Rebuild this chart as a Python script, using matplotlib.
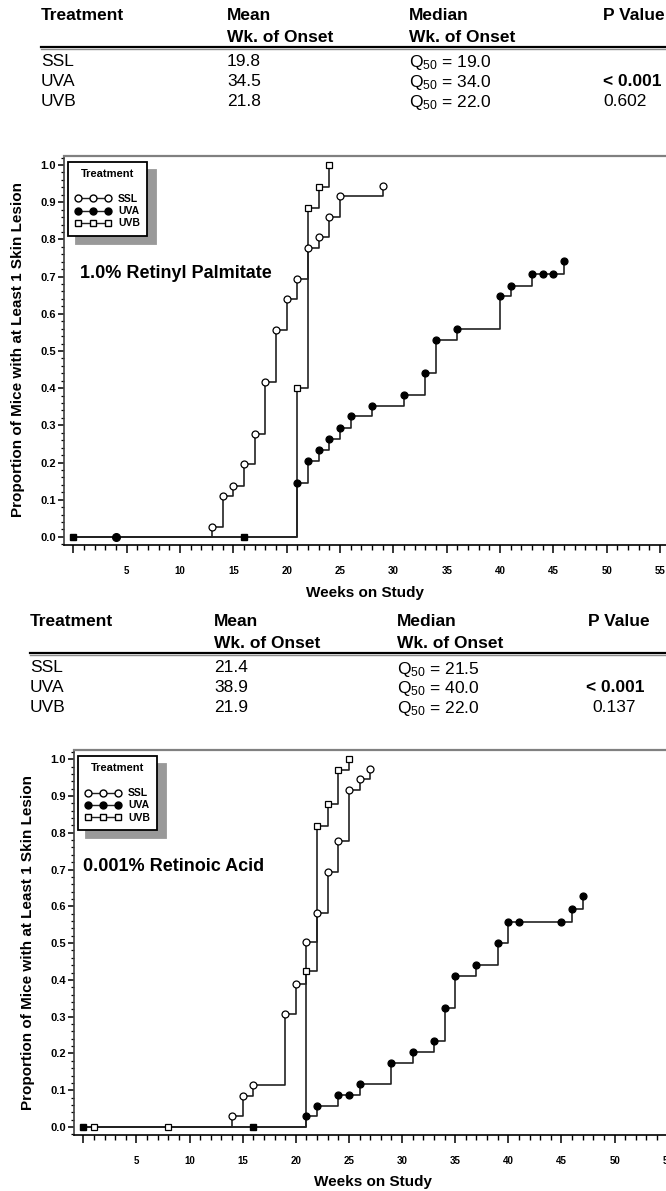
import matplotlib.pyplot as plt
from matplotlib.lines import Line2D
from matplotlib.ticker import MultipleLocator, FixedLocator, FuncFormatter

plt.rcParams['font.family'] = ['Liberation Sans', 'DejaVu Sans']
plt.rcParams['mathtext.fontset'] = 'custom'
plt.rcParams['mathtext.rm'] = 'Liberation Sans'
plt.rcParams['mathtext.it'] = 'Liberation Sans:italic'
plt.rcParams['mathtext.bf'] = 'Liberation Sans:bold'

W, H = 666, 1191

# ---- summary tables
groups = ['SSL', 'UVA', 'UVB']
rp_mean = ['19.8', '34.5', '21.8']
rp_median = ['19.0', '34.0', '22.0']
rp_pval = ['', '< 0.001', '0.602']
ra_mean = ['21.4', '38.9', '21.9']
ra_median = ['21.5', '40.0', '22.0']
ra_pval = ['', '< 0.001', '0.137']

# ---- 1.0% Retinyl Palmitate (week of onset, cumulative proportion)
rp_ssl_wk = [13, 14, 15, 16, 17, 18, 19, 20, 21, 22, 23, 24, 25, 29]
rp_ssl_p = [0.027, 0.109, 0.138, 0.196, 0.278, 0.416, 0.556, 0.639, 0.694,
            0.778, 0.806, 0.861, 0.917, 0.944]
rp_uva_wk = [21, 22, 23, 24, 25, 26, 28, 31, 33, 34, 36, 40, 41, 43, 44, 45, 46]
rp_uva_p = [0.146, 0.204, 0.234, 0.264, 0.294, 0.324, 0.352, 0.381, 0.440,
            0.529, 0.558, 0.648, 0.676, 0.706, 0.706, 0.706, 0.743]
rp_uvb_wk = [21, 22, 23, 24]
rp_uvb_p = [0.401, 0.885, 0.942, 1.0]
rp_base_sq = [0, 16]      # filled squares on the baseline
rp_base_ci = [4]          # filled circle on the baseline
rp_base_open = []

# ---- 0.001% Retinoic Acid
ra_ssl_wk = [14, 15, 16, 19, 20, 21, 22, 23, 24, 25, 26, 27]
ra_ssl_p = [0.029, 0.084, 0.113, 0.307, 0.390, 0.502, 0.583, 0.694, 0.778,
            0.917, 0.945, 0.973]
ra_uva_wk = [21, 22, 24, 25, 26, 29, 31, 33, 34, 35, 37, 39, 40, 41, 45, 46, 47]
ra_uva_p = [0.029, 0.058, 0.087, 0.087, 0.117, 0.175, 0.204, 0.234, 0.323,
            0.410, 0.440, 0.499, 0.558, 0.558, 0.558, 0.592, 0.627]
ra_uvb_wk = [21, 22, 23, 24, 25]
ra_uvb_p = [0.424, 0.818, 0.879, 0.970, 1.0]
ra_base_sq = [0, 16]
ra_base_ci = []
ra_base_open = [1, 8]     # open squares on the baseline


def fx(px):
    return px / W


def fy(py):
    return 1 - py / H


fig = plt.figure(figsize=(W / 100, H / 100), dpi=100)


def table(top, cols, means, medians, pvals, pv_x):
    y_head, y_wk, y_line = top, top + 22, top + 31
    y_rows = [top + 45, top + 65, top + 85]
    fs = 12.5
    x_t, x_mean, x_med = cols
    fig.text(fx(x_t), fy(y_head), 'Treatment', fontsize=fs, weight='bold', va='center')
    fig.text(fx(x_mean), fy(y_head), 'Mean', fontsize=fs, weight='bold', va='center')
    fig.text(fx(x_med), fy(y_head), 'Median', fontsize=fs, weight='bold', va='center')
    fig.text(fx(pv_x[0]), fy(y_head), 'P Value', fontsize=fs, weight='bold', va='center')
    fig.text(fx(x_mean), fy(y_wk), 'Wk. of Onset', fontsize=fs, weight='bold', va='center')
    fig.text(fx(x_med), fy(y_wk), 'Wk. of Onset', fontsize=fs, weight='bold', va='center')
    fig.add_artist(Line2D([fx(x_t), 1.0], [fy(y_line), fy(y_line)], color='black', lw=1.6))
    fig.add_artist(Line2D([fx(x_t), 1.0], [fy(y_line + 2), fy(y_line + 2)], color='0.55', lw=1.0))
    for i, g in enumerate(groups):
        fig.text(fx(x_t), fy(y_rows[i]), g, fontsize=fs, va='center')
        fig.text(fx(x_mean), fy(y_rows[i]), means[i], fontsize=fs, va='center')
        fig.text(fx(x_med), fy(y_rows[i]), r'Q$_{50}$ = ' + medians[i], fontsize=fs,
                 va='baseline', transform=fig.transFigure).set_y(fy(y_rows[i] + 6.5))
        if pvals[i]:
            bold = pvals[i].startswith('<')
            fig.text(fx(pv_x[1] if bold else pv_x[2]), fy(y_rows[i]), pvals[i], fontsize=fs,
                     va='center', weight='bold' if bold else 'normal')


table(16, (41, 227, 409), rp_mean, rp_median, rp_pval, (603, 603, 603))
table(622, (30, 214, 397), ra_mean, ra_median, ra_pval, (588, 586, 592))


def km(ax, wk, p, marker, face):
    ax.plot([0] + wk, [0] + p, drawstyle='steps-post', color='#222222', lw=1.2, zorder=2,
            clip_on=False)
    ax.plot(wk, p, ls='none', marker=marker, ms=5, mfc=face, mec='black', mew=0.9, zorder=3,
            clip_on=False)


def panel(rect, x0, label, label_x, data, base):
    ax = fig.add_axes(rect)
    ssl, uva, uvb = data
    km(ax, ssl[0], ssl[1], 'o', 'white')
    km(ax, uvb[0], uvb[1], 's', 'white')
    km(ax, uva[0], uva[1], 'o', 'black')
    sq, ci, op = base
    ax.plot(sq, [0] * len(sq), ls='none', marker='s', ms=5, mfc='black', mec='black', zorder=4,
            clip_on=False)
    ax.plot(ci, [0] * len(ci), ls='none', marker='o', ms=5.5, mfc='black', mec='black', zorder=4,
            clip_on=False)
    ax.plot(op, [0] * len(op), ls='none', marker='s', ms=5, mfc='white', mec='black', mew=0.9,
            zorder=4, clip_on=False)

    ax.set_xlim(x0, 57)
    ax.set_ylim(-0.0217, 1.025)
    ax.xaxis.set_major_locator(FixedLocator(range(0, 60, 5)))
    ax.xaxis.set_minor_locator(MultipleLocator(1))
    ax.xaxis.set_major_formatter(FuncFormatter(lambda v, pos: '' if v == 0 else '%d' % v))
    ax.yaxis.set_major_locator(MultipleLocator(0.1))
    ax.yaxis.set_minor_locator(MultipleLocator(0.02))
    ax.yaxis.set_major_formatter(FuncFormatter(lambda v, pos: '%.1f' % abs(v)))
    ax.tick_params(axis='x', which='major', length=6, width=1.1, pad=9, labelsize=7)
    ax.tick_params(axis='x', which='minor', length=3.5, width=1.0)
    ax.tick_params(axis='y', which='major', length=4, width=1.1, pad=2, labelsize=8)
    ax.tick_params(axis='y', which='minor', length=2, width=0.9)
    for t in ax.get_xticklabels() + ax.get_yticklabels():
        t.set_fontweight('bold')
    ax.spines['right'].set_visible(False)
    ax.spines['top'].set_color('0.5')
    ax.spines['top'].set_linewidth(1.6)
    ax.spines['left'].set_color('0.25')
    ax.spines['left'].set_linewidth(1.2)
    ax.spines['bottom'].set_linewidth(1.2)

    handles = [Line2D([], [], color='#222222', lw=1.0, marker='o', ms=5, mfc='white', mec='black'),
               Line2D([], [], color='#222222', lw=1.0, marker='o', ms=5, mfc='black', mec='black'),
               Line2D([], [], color='#222222', lw=1.0, marker='s', ms=5, mfc='white', mec='black')]
    leg = ax.legend(handles, groups, title='Treatment', loc='upper left',
                    bbox_to_anchor=(0.0065, 0.985), borderaxespad=0, numpoints=3,
                    handlelength=3.4, handletextpad=0.7, labelspacing=0.2, borderpad=0.7,
                    fancybox=False, framealpha=1, edgecolor='black',
                    prop={'size': 7.5, 'weight': 'bold'},
                    title_fontproperties={'size': 8, 'weight': 'bold'},
                    shadow={'ox': 6, 'oy': -6, 'color': '0.6', 'alpha': 1})
    leg.get_frame().set_linewidth(1.3)
    leg._legend_box.sep = 11
    ax.text(label_x, 0.698, label, transform=ax.transAxes,
            fontsize=13, weight='bold', va='center')
    return ax


# top panel: frame from x=64 to 681.5 px, y=155.7 to 545 px
panel([fx(64), fy(545), (681.5 - 64) / W, (545 - 155.7) / H], -0.87,
      '1.0% Retinyl Palmitate', 0.026,
      ((rp_ssl_wk, rp_ssl_p), (rp_uva_wk, rp_uva_p), (rp_uvb_wk, rp_uvb_p)),
      (rp_base_sq, rp_base_ci, rp_base_open))
fig.text(fx(365), fy(593), 'Weeks on Study', fontsize=11, weight='bold',
         ha='center', va='center')
fig.text(fx(18), fy(350), 'Proportion of Mice with at Least 1 Skin Lesion', fontsize=11,
         weight='bold', rotation=90, ha='center', va='center')

# bottom panel
panel([fx(74), fy(1135), (689 - 74) / W, (1135 - 750) / H], -0.875,
      '0.001% Retinoic Acid', 0.0146,
      ((ra_ssl_wk, ra_ssl_p), (ra_uva_wk, ra_uva_p), (ra_uvb_wk, ra_uvb_p)),
      (ra_base_sq, ra_base_ci, ra_base_open))
fig.text(fx(373), fy(1182), 'Weeks on Study', fontsize=11, weight='bold',
         ha='center', va='center')
fig.text(fx(28), fy(942), 'Proportion of Mice with at Least 1 Skin Lesion', fontsize=11,
         weight='bold', rotation=90, ha='center', va='center')

fig.savefig('out.png', dpi=100)
